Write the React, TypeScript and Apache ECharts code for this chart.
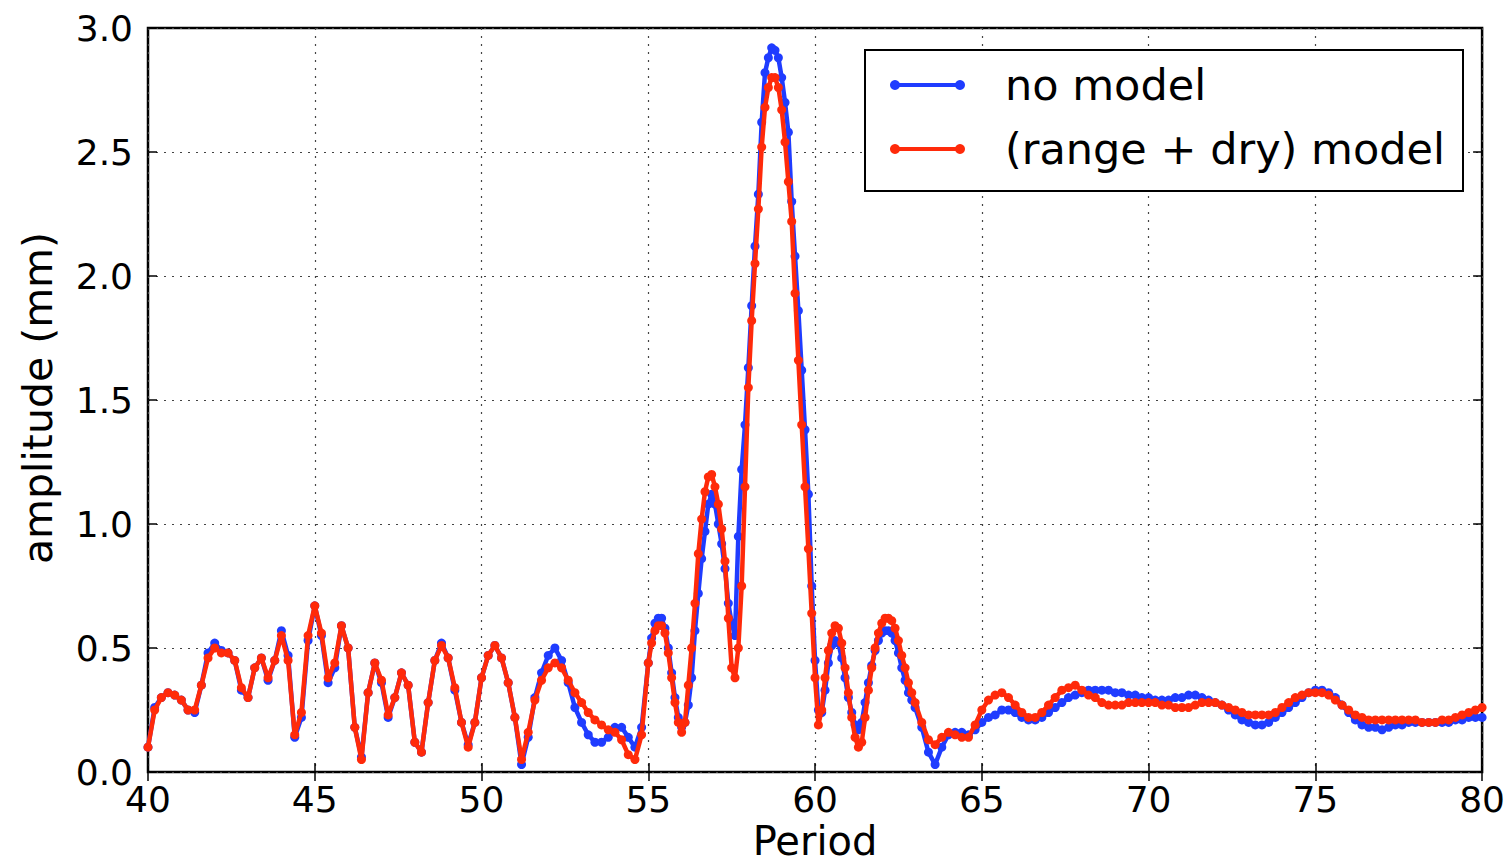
import React, { useEffect, useRef } from "react";
import * as echarts from "echarts";

// Sampling grid (Period): 40.0–54.8 step 0.2, 55.0–62.9 step 0.1, 63.0–80.0 step 0.2
const gridSegments = [
  { start: 40.0, count: 75, step: 0.2 },
  { start: 55.0, count: 80, step: 0.1 },
  { start: 63.0, count: 86, step: 0.2 },
];

const xTicks = [40, 45, 50, 55, 60, 65, 70, 75, 80];
const yTicks = [0.0, 0.5, 1.0, 1.5, 2.0, 2.5, 3.0];

const seriesNames = ["no model", "(range + dry) model"];

// "no model" amplitude (mm)
const blueA = [
  0.10, 0.26, 0.30, 0.32, 0.31, 0.29, 0.25, 0.24, 0.35, 0.48,
  0.52, 0.49, 0.48, 0.45, 0.33, 0.30, 0.42, 0.46, 0.37, 0.45,
  0.57, 0.47, 0.14, 0.22, 0.53, 0.67, 0.55, 0.36, 0.42, 0.59,
  0.50, 0.18, 0.06, 0.32, 0.44, 0.36, 0.22, 0.30, 0.40, 0.35,
  0.12, 0.08, 0.28, 0.45, 0.52, 0.46, 0.33, 0.20, 0.11, 0.20,
  0.38, 0.47, 0.51, 0.46, 0.36, 0.22, 0.03, 0.14, 0.30, 0.40,
  0.47, 0.50, 0.45, 0.36, 0.26, 0.20, 0.15, 0.12, 0.12, 0.14,
  0.18, 0.18, 0.14, 0.10, 0.18,
];
const blueB = [
  0.44, 0.54, 0.60, 0.62, 0.62, 0.58, 0.50, 0.40, 0.30, 0.22,
  0.18, 0.20, 0.27, 0.38, 0.57, 0.72, 0.86, 0.97, 1.08, 1.12,
  1.08, 1.00, 0.92, 0.82, 0.68, 0.60, 0.55, 0.95, 1.22, 1.40,
  1.63, 1.88, 2.12, 2.33, 2.62, 2.82, 2.88, 2.92, 2.91, 2.88,
  2.80, 2.70, 2.58, 2.30, 2.08, 1.86, 1.62, 1.38, 1.12, 0.75,
  0.45, 0.25, 0.24, 0.33, 0.44, 0.51, 0.53, 0.52, 0.46, 0.38,
  0.30, 0.24, 0.19, 0.17, 0.20, 0.28, 0.36, 0.43, 0.49, 0.53,
  0.56, 0.57, 0.57, 0.56, 0.53, 0.48, 0.42, 0.37, 0.32, 0.29,
];
const blueC = [
  0.26, 0.18, 0.08, 0.03, 0.10, 0.15, 0.16, 0.16, 0.15, 0.17,
  0.20, 0.22, 0.23, 0.25, 0.25, 0.24, 0.22, 0.21, 0.21, 0.22,
  0.24, 0.26, 0.28, 0.30, 0.31, 0.32, 0.33, 0.33, 0.33, 0.33,
  0.32, 0.32, 0.31, 0.31, 0.30, 0.30, 0.29, 0.29, 0.29, 0.30,
  0.30, 0.31, 0.31, 0.30, 0.29, 0.28, 0.27, 0.25, 0.23, 0.21,
  0.20, 0.19, 0.19, 0.20, 0.22, 0.24, 0.26, 0.28, 0.30, 0.32,
  0.33, 0.33, 0.32, 0.30, 0.27, 0.24, 0.21, 0.19, 0.18, 0.18,
  0.17, 0.18, 0.19, 0.19, 0.20, 0.20, 0.20, 0.20, 0.20, 0.20,
  0.20, 0.21, 0.21, 0.22, 0.22, 0.22,
];

// "(range + dry) model" amplitude (mm)
const redA = [
  0.10, 0.25, 0.30, 0.32, 0.31, 0.29, 0.25, 0.25, 0.35, 0.46,
  0.50, 0.48, 0.48, 0.45, 0.34, 0.30, 0.42, 0.46, 0.38, 0.45,
  0.55, 0.45, 0.15, 0.24, 0.55, 0.67, 0.56, 0.38, 0.44, 0.59,
  0.50, 0.18, 0.05, 0.32, 0.44, 0.37, 0.23, 0.30, 0.40, 0.35,
  0.12, 0.08, 0.28, 0.45, 0.51, 0.46, 0.34, 0.20, 0.10, 0.20,
  0.38, 0.47, 0.51, 0.46, 0.36, 0.22, 0.05, 0.16, 0.29, 0.37,
  0.42, 0.44, 0.42, 0.37, 0.32, 0.28, 0.24, 0.21, 0.19, 0.17,
  0.16, 0.13, 0.07, 0.05, 0.15,
];
const redB = [
  0.44, 0.52, 0.57, 0.59, 0.59, 0.56, 0.48, 0.38, 0.28, 0.20,
  0.16, 0.20, 0.35, 0.50, 0.68, 0.88, 1.02, 1.13, 1.19, 1.20,
  1.15, 1.08, 0.98, 0.85, 0.62, 0.42, 0.38, 0.50, 0.75, 1.15,
  1.55, 1.82, 2.05, 2.27, 2.52, 2.68, 2.76, 2.80, 2.80, 2.76,
  2.67, 2.54, 2.38, 2.22, 1.93, 1.66, 1.40, 1.15, 0.90, 0.64,
  0.38, 0.19, 0.25, 0.38, 0.49, 0.56, 0.59, 0.58, 0.52, 0.42,
  0.32, 0.22, 0.14, 0.10, 0.12, 0.22, 0.33, 0.42, 0.50, 0.56,
  0.60, 0.62, 0.62, 0.61, 0.58, 0.53, 0.47, 0.42, 0.36, 0.32,
];
const redC = [
  0.28, 0.20, 0.13, 0.11, 0.14, 0.16, 0.15, 0.14, 0.14, 0.19,
  0.25, 0.29, 0.31, 0.32, 0.30, 0.27, 0.24, 0.22, 0.22, 0.24,
  0.27, 0.30, 0.33, 0.34, 0.35, 0.33, 0.31, 0.30, 0.28, 0.27,
  0.27, 0.27, 0.28, 0.28, 0.28, 0.28, 0.28, 0.27, 0.27, 0.26,
  0.26, 0.26, 0.27, 0.28, 0.28, 0.28, 0.27, 0.26, 0.25, 0.24,
  0.23, 0.23, 0.23, 0.23, 0.24, 0.26, 0.28, 0.30, 0.31, 0.32,
  0.32, 0.32, 0.31, 0.29, 0.27, 0.25, 0.23, 0.22, 0.21, 0.21,
  0.21, 0.21, 0.21, 0.21, 0.21, 0.21, 0.20, 0.20, 0.20, 0.21,
  0.21, 0.22, 0.23, 0.24, 0.25, 0.26,
];

const BLUE = "#1f3cff";
const RED = "#ff2a0a";
const FONT = "DejaVu Sans";

function buildPeriods(): number[] {
  const out: number[] = [];
  for (const seg of gridSegments) {
    for (let i = 0; i < seg.count; i++) {
      out.push(Math.round((seg.start + seg.step * i) * 10) / 10);
    }
  }
  return out;
}

export default function App() {
  const ref = useRef<HTMLDivElement>(null);

  useEffect(() => {
    if (!ref.current) return;
    const chart = echarts.init(ref.current, null, { renderer: "svg" });
    const periods = buildPeriods();
    const blue = [...blueA, ...blueB, ...blueC];
    const red = [...redA, ...redB, ...redC];
    const blueData = periods.map((p, i) => [p, blue[i]]);
    const redData = periods.map((p, i) => [p, red[i]]);

    const splitLine = {
      show: true,
      lineStyle: { color: "#444", width: 1.2, type: [2, 6] as any },
    };
    const tick = { show: true, inside: true, length: 9, lineStyle: { color: "#000", width: 1.5 } };

    const legendX = 865;
    const legendY = 50;
    const legendW = 598;
    const legendH = 141;
    const rows = [85, 149];
    const colors = [BLUE, RED];
    const legendEls: any[] = [
      {
        type: "rect",
        shape: { x: legendX, y: legendY, width: legendW, height: legendH },
        style: { fill: "#fff", stroke: "#000", lineWidth: 2 },
        z: 100,
      },
    ];
    rows.forEach((ry, k) => {
      legendEls.push({
        type: "line",
        shape: { x1: 895, y1: ry, x2: 960, y2: ry },
        style: { stroke: colors[k], lineWidth: 4 },
        z: 101,
      });
      legendEls.push({ type: "circle", shape: { cx: 895, cy: ry, r: 5 }, style: { fill: colors[k] }, z: 102 });
      legendEls.push({ type: "circle", shape: { cx: 960, cy: ry, r: 5 }, style: { fill: colors[k] }, z: 102 });
      legendEls.push({
        type: "text",
        x: 1005,
        y: ry,
        style: {
          text: seriesNames[k],
          fill: "#000",
          font: `43px '${FONT}'`,
          textAlign: "left",
          textVerticalAlign: "middle",
        },
        z: 102,
      });
    });

    chart.setOption({
      animation: false,
      backgroundColor: "#fff",
      grid: {
        left: 148,
        top: 28,
        right: 20,
        bottom: 91,
        show: true,
        borderColor: "#000",
        borderWidth: 2.5,
        backgroundColor: "transparent",
      },
      xAxis: [
        {
          type: "value",
          min: xTicks[0],
          max: xTicks[xTicks.length - 1],
          interval: 5,
          axisLine: { show: false },
          axisTick: tick,
          splitLine,
          axisLabel: {
            color: "#000",
            fontFamily: FONT,
            fontSize: 36,
            margin: 9,
            formatter: (v: number) => (xTicks.includes(v) ? String(v) : ""),
          },
        },
        {
          type: "value",
          position: "top",
          min: xTicks[0],
          max: xTicks[xTicks.length - 1],
          interval: 5,
          axisLine: { show: false },
          axisTick: tick,
          splitLine: { show: false },
          axisLabel: { show: false },
        },
      ],
      yAxis: [
        {
          type: "value",
          min: yTicks[0],
          max: yTicks[yTicks.length - 1],
          interval: 0.5,
          axisLine: { show: false },
          axisTick: tick,
          splitLine,
          axisLabel: {
            color: "#000",
            fontFamily: FONT,
            fontSize: 36,
            margin: 15,
            formatter: (v: number) => v.toFixed(1),
          },
        },
        {
          type: "value",
          position: "right",
          min: yTicks[0],
          max: yTicks[yTicks.length - 1],
          interval: 0.5,
          axisLine: { show: false },
          axisTick: tick,
          splitLine: { show: false },
          axisLabel: { show: false },
        },
      ],
      series: [
        {
          name: seriesNames[0],
          type: "line",
          data: blueData,
          xAxisIndex: 0,
          yAxisIndex: 0,
          symbol: "circle",
          symbolSize: 9,
          showSymbol: true,
          lineStyle: { color: BLUE, width: 4.5 },
          itemStyle: { color: BLUE },
          z: 3,
        },
        {
          name: seriesNames[1],
          type: "line",
          data: redData,
          xAxisIndex: 0,
          yAxisIndex: 0,
          symbol: "circle",
          symbolSize: 9,
          showSymbol: true,
          lineStyle: { color: RED, width: 4.5 },
          itemStyle: { color: RED },
          z: 4,
        },
      ],
      graphic: [
        {
          type: "text",
          x: 815,
          y: 841,
          style: {
            text: "Period",
            fill: "#000",
            font: `40px '${FONT}'`,
            textAlign: "center",
            textVerticalAlign: "middle",
          },
        },
        {
          type: "text",
          x: 38,
          y: 398,
          rotation: Math.PI / 2,
          style: {
            text: "amplitude (mm)",
            fill: "#000",
            font: `41px '${FONT}'`,
            textAlign: "center",
            textVerticalAlign: "middle",
          },
        },
        ...legendEls,
      ],
    });

    return () => chart.dispose();
  }, []);

  return (
    <div
      ref={ref}
      style={{ position: "absolute", left: 0, top: 0, width: 1508, height: 863, background: "#fff" }}
    />
  );
}
